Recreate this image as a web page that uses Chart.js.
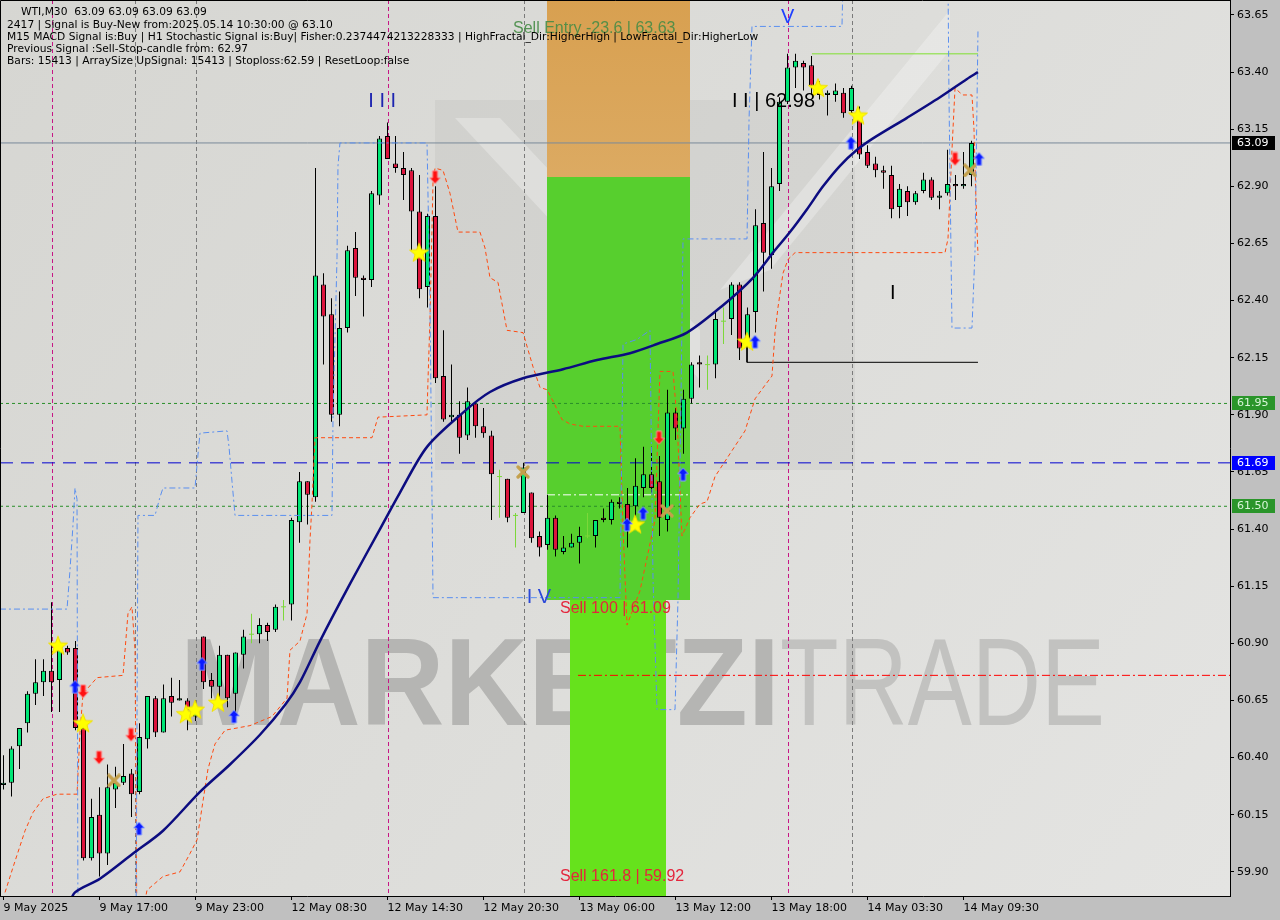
<!DOCTYPE html>
<html>
<head>
<meta charset="utf-8">
<script src="https://cdn.jsdelivr.net/npm/chart.js@4.4.1/dist/chart.umd.min.js"></script>
<style>
  html, body { margin: 0; padding: 0; background: #c0c0c0; }
  canvas { display: block; }
</style>
</head>
<body>
<canvas id="chart" width="1280" height="920"></canvas>
<script>
// WTI M30 candles, bar index 0 = 9 May 2025 ~11:00
const opens = [60.28,60.29,60.45,60.55,60.68,60.73,60.78,60.74,60.88,60.88,60.53,59.96,60.15,59.98,60.26,60.29,60.33,60.25,60.48,60.66,
  60.51,60.67,60.65,60.65,60.58,60.93,60.74,60.71,60.85,60.68,60.85,60.94,60.94,60.98,60.96,61.06,61.07,61.43,61.61,61.54,
  62.47,62.34,61.90,62.28,62.63,62.50,62.49,62.86,63.12,63.00,62.98,62.97,62.79,62.46,62.77,62.07,61.89,61.90,61.81,61.95,
  61.85,61.81,61.63,61.62,61.46,61.47,61.56,61.37,61.33,61.45,61.30,61.32,61.34,61.37,61.37,61.45,61.44,61.52,61.51,61.50,
  61.58,61.64,61.61,61.44,61.91,61.84,61.97,62.13,62.12,62.12,62.31,62.32,62.47,62.22,62.35,62.74,62.60,62.91,63.27,63.42,
  63.44,63.43,63.34,63.30,63.30,63.31,63.23,63.21,63.05,63.00,62.97,62.95,62.81,62.88,62.83,62.88,62.93,62.85,62.87,62.91,
  62.90,62.95];
const highs = [60.41,60.45,60.53,60.69,60.83,60.83,61.08,60.90,60.89,60.91,60.55,60.22,60.27,60.37,60.36,60.46,60.35,60.55,60.67,60.67,
  60.72,60.75,60.74,60.66,60.65,60.93,60.77,60.89,60.85,60.86,60.96,61.03,61.01,60.99,61.07,61.09,61.45,61.65,61.61,62.98,
  62.52,62.41,62.44,62.64,62.70,62.51,62.88,63.12,63.18,63.12,63.05,62.98,62.95,62.78,62.90,62.27,62.12,61.96,62.02,61.96,
  61.93,61.83,61.66,61.62,61.47,61.69,61.56,61.39,61.55,61.46,61.37,61.38,61.41,61.47,61.44,61.49,61.53,61.54,61.58,61.71,
  61.76,61.76,61.72,62.01,61.93,62.01,62.13,62.16,62.16,62.35,62.37,62.48,62.48,62.37,62.80,63.05,62.98,63.29,63.48,63.48,
  63.45,63.47,63.36,63.32,63.35,63.33,63.34,63.25,63.08,63.03,62.99,62.99,62.91,62.90,62.88,62.96,62.94,62.88,63.06,62.95,
  63.05,63.10];
const lows = [60.26,60.23,60.35,60.51,60.63,60.67,60.60,60.60,60.85,60.52,59.95,59.95,59.88,59.93,60.18,60.28,60.14,60.24,60.44,60.49,
  60.51,60.58,60.65,60.52,60.56,60.70,60.66,60.66,60.62,60.60,60.79,60.90,60.90,60.91,60.95,61.00,61.00,61.34,61.42,61.52,
  62.12,61.87,61.85,62.26,62.42,62.33,62.46,62.82,63.02,62.96,62.84,62.62,62.41,62.37,62.04,61.87,61.86,61.73,61.79,61.80,
  61.80,61.44,61.45,61.43,61.32,61.47,61.34,61.28,61.31,61.28,61.29,61.32,61.25,61.36,61.32,61.43,61.42,61.49,61.32,61.40,
  61.54,61.56,61.37,61.39,61.79,61.73,61.95,62.02,62.01,62.06,62.21,62.25,62.14,62.20,62.26,62.44,62.54,62.88,63.26,63.33,
  63.32,63.30,63.28,63.21,63.27,63.20,63.22,63.02,62.98,62.94,62.89,62.76,62.76,62.77,62.82,62.87,62.84,62.80,62.86,62.84,
  62.89,62.90];
const closes = [60.29,60.44,60.53,60.68,60.73,60.78,60.73,60.87,60.86,60.53,59.96,60.14,59.98,60.27,60.29,60.32,60.24,60.49,60.67,60.51,
  60.66,60.64,60.66,60.61,60.61,60.73,60.71,60.85,60.66,60.86,60.93,60.94,60.98,60.95,61.06,61.06,61.44,61.61,61.55,62.51,
  62.33,61.90,62.28,62.62,62.50,62.49,62.87,63.11,63.02,62.98,62.95,62.79,62.45,62.77,62.06,61.88,61.90,61.80,61.96,61.85,
  61.82,61.64,61.63,61.45,61.46,61.67,61.36,61.32,61.45,61.31,61.32,61.34,61.37,61.37,61.44,61.44,61.52,61.51,61.43,61.59,
  61.64,61.58,61.45,61.91,61.84,61.97,62.12,62.12,62.12,62.32,62.31,62.47,62.19,62.34,62.73,62.61,62.90,63.27,63.42,63.45,
  63.42,63.34,63.30,63.31,63.32,63.22,63.33,63.04,62.99,62.97,62.96,62.80,62.89,62.83,62.87,62.93,62.85,62.86,62.91,62.90,
  62.91,63.09];
const dojiBars = [31, 35, 62, 64, 73, 88, 90];

const timeLabelBars = [0, 12, 24, 36, 48, 60, 72, 84, 96, 108, 120];
const timeLabels = ['9 May 2025', '9 May 17:00', '9 May 23:00', '12 May 08:30', '12 May 14:30', '12 May 20:30',
  '13 May 06:00', '13 May 12:00', '13 May 18:00', '14 May 03:30', '14 May 09:30'];
const priceTicks = [63.65, 63.40, 63.15, 62.90, 62.65, 62.40, 62.15, 61.90, 61.65, 61.40, 61.15, 60.90, 60.65, 60.40, 60.15, 59.90];

// moving average (sampled along the curve)
const maBars = [8.0, 8.94, 12.06, 16.19, 19.94, 24.56, 28.31, 32.06, 35.19, 37.06, 39.56, 43.31, 47.06, 49.56, 52.94, 57.44, 60.81, 64.94,
  69.94, 74.19, 78.31, 81.69, 85.44, 89.94, 93.69, 96.19, 98.31, 100.44, 102.44, 104.56, 106.69, 108.69, 112.94, 117.06, 120.44, 121.81];
const maValues = [59.74, 59.81, 59.87, 59.98, 60.08, 60.25, 60.37, 60.50, 60.63, 60.73, 60.91, 61.16, 61.40, 61.56, 61.76, 61.91, 62.00, 62.06,
  62.10, 62.14, 62.17, 62.21, 62.26, 62.38, 62.50, 62.61, 62.70, 62.80, 62.90, 62.99, 63.06, 63.11, 63.20, 63.29, 63.37, 63.40];

// trailing stop (orange dashed)
const stopBars = [0.19, 1.19, 2.69, 3.69, 4.94, 6.69, 9.19, 9.56, 9.94, 11.69, 14.94, 15.56, 16.06, 16.44, 16.69, 17.94, 19.94, 22.06, 23.31, 24.19,
  24.94, 25.56, 26.44, 27.69, 30.81, 33.56, 35.44, 35.81, 37.06, 37.94, 38.31, 38.56, 38.94, 46.06, 46.81, 52.94, 53.06, 53.31, 53.69, 53.94,
  54.94, 55.81, 56.81, 59.56, 60.19, 60.81, 61.81, 62.94, 64.94, 66.19, 67.06, 67.94, 68.69, 69.81, 70.81, 72.44, 77.06, 77.44, 77.94, 79.56,
  81.44, 81.81, 82.06, 83.69, 84.19, 84.81, 85.81, 87.06, 87.94, 88.94, 90.81, 92.69, 93.94, 95.19, 96.06, 96.44, 96.81, 97.44, 98.06, 98.94,
  117.69, 118.06, 118.56, 118.94, 119.56, 119.94, 121.06, 121.31, 121.56, 121.81];
const stopValues = [59.81, 59.92, 60.08, 60.16, 60.22, 60.24, 60.24, 60.51, 60.68, 60.75, 60.76, 61.03, 61.06, 60.87, 59.60, 59.82, 59.88, 59.90, 59.98, 60.04,
  60.21, 60.35, 60.46, 60.52, 60.54, 60.58, 60.66, 60.87, 60.91, 61.03, 61.35, 61.51, 61.80, 61.80, 61.89, 61.90, 62.05, 62.32, 62.92, 62.98,
  62.97, 62.87, 62.70, 62.70, 62.63, 62.50, 62.48, 62.27, 62.26, 62.11, 62.02, 62.01, 61.96, 61.88, 61.86, 61.85, 61.85, 61.40, 60.98, 61.13,
  61.44, 61.83, 62.09, 62.09, 61.88, 61.37, 61.45, 61.51, 61.52, 61.63, 61.73, 61.83, 61.97, 62.03, 62.07, 62.26, 62.37, 62.52, 62.58, 62.61,
  62.61, 62.67, 63.06, 63.33, 63.31, 63.30, 63.30, 63.15, 62.84, 62.60];

// fractal channel (blue dash-dot), two runs
const fractalBars = [-0.44, 7.94, 8.31, 8.69, 8.94, 9.19, 9.31, 16.56, 16.81, 18.94, 19.56, 19.94, 23.94, 24.19, 24.56, 27.94, 28.19, 28.56, 28.94,
  41.06, 41.19, 41.69, 41.81, 42.06, 52.94, 53.31, 53.69, 65.81, 77.06, 77.44, 79.19, 80.81, 81.19, 81.69, 83.94, 84.31, 84.69, 84.94, 92.94,
  93.19, 93.56, 104.81, 104.94];
const fractalValues = [61.05, 61.05, 61.22, 61.42, 61.58, 61.53, 59.60, 59.60, 61.46, 61.46, 61.54, 61.58, 61.58, 61.68, 61.82, 61.83, 61.76, 61.61, 61.46,
  61.46, 61.89, 62.59, 62.99, 63.09, 63.09, 62.40, 61.10, 61.10, 61.10, 62.21, 62.23, 62.27, 61.18, 60.61, 60.61, 61.09, 61.97, 62.67, 62.67,
  63.19, 63.60, 63.60, 63.80];
const fractalBars2 = [118.06, 118.19, 118.56, 121.06, 121.44, 121.81];
const fractalValues2 = [63.80, 63.28, 62.28, 62.28, 62.62, 63.58];

// levels
const currentPrice = 63.09;
const upperLevel = 61.95;
const pivotLevel = 61.69;
const lowerLevel = 61.50;
const targetLevel = 60.76;
const entryMidLevel = 61.55;
const highLevel = 63.48;
const supportLevel = 62.13;
const supportStart = 62.22;

// fibonacci zones: [fromBar, toBar, lowPrice, highPrice]
const entryZone = [67.94, 85.81, 62.94, 63.90];
const sellZone = [67.94, 85.81, 61.09, 62.94];
const extensionZone = [70.81, 82.81, 59.60, 61.09];
const highLevelBars = [101.06, 121.81];
const supportBars = [92.94, 121.81];
const targetFromBar = 71.81;

const daySeparators = [6, 48, 98];
const sessionSeparators = [16.45, 24, 65, 106];

// signal markers
const upArrowBars = [8.94, 16.94, 24.81, 28.81, 77.94, 79.94, 84.94, 93.94, 105.94, 121.94];
const upArrowPrices = [60.71, 60.09, 60.81, 60.58, 61.42, 61.47, 61.64, 62.22, 63.09, 63.02];
const downArrowBars = [9.94, 11.94, 15.94, 53.94, 81.94, 118.94];
const downArrowPrices = [60.69, 60.40, 60.50, 62.94, 61.80, 63.02];
const starBars = [6.81, 9.94, 22.81, 23.94, 26.81, 51.94, 78.94, 92.94, 101.81, 106.81];
const starPrices = [60.89, 60.55, 60.59, 60.61, 60.64, 62.61, 61.42, 62.22, 63.33, 63.21];
const crossBars = [13.81, 64.94, 82.94, 120.81];
const crossPrices = [60.30, 61.65, 61.48, 62.97];

// text annotations
const waveTexts = ['I I I', 'I V', 'V', 'I I | 62.98', 'I'];
const waveBars = [45.6, 65.4, 97.2, 91.06, 110.8];
const wavePrices = [63.27, 61.10, 63.64, 63.27, 62.43];
const fibTexts = ['Sell Entry -23.6 | 63.63', 'Sell 100 | 61.09', 'Sell 161.8 | 59.92'];
const fibBars = [63.69, 69.56, 69.56];
const fibPrices = [63.59, 61.05, 59.88];

const headerLines = [
  'WTI,M30  63.09 63.09 63.09 63.09',
  '2417 | Signal is Buy-New from:2025.05.14 10:30:00 @ 63.10',
  'M15 MACD Signal is:Buy | H1 Stochastic Signal is:Buy| Fisher:0.2374474213228333 | HighFractal_Dir:HigherHigh | LowFractal_Dir:HigherLow',
  'Previous Signal :Sell-Stop-candle from: 62.97',
  'Bars: 15413 | ArraySize UpSignal: 15413 | Stoploss:62.59 | ResetLoop:false'
];

const xMin = -0.4375, xMax = 153.3125;
const yMin = 59.7944, yMax = 63.7156;

const pts = (xs, ys) => xs.map((x, k) => ({ x: x, y: ys[k] }));
const isDoji = i => dojiBars.includes(i);
const bars = opens.map((_, i) => i);
const bodyBars = bars.filter(i => !isDoji(i));

// marker glyphs
function makeArrow(fill, edge, up) {
  const c = document.createElement('canvas');
  c.width = 13; c.height = 15;
  const g = c.getContext('2d');
  const shape = [[6.5, 1], [12, 7], [9, 7], [9, 14], [4, 14], [4, 7], [1, 7]];
  g.beginPath();
  shape.forEach(([px, py], k) => {
    const yy = up ? py : 15 - py;
    if (k) g.lineTo(px, yy); else g.moveTo(px, yy);
  });
  g.closePath();
  g.fillStyle = fill; g.fill();
  g.strokeStyle = edge; g.lineWidth = 1; g.stroke();
  return c;
}
function makeStar() {
  const c = document.createElement('canvas');
  c.width = 22; c.height = 22;
  const g = c.getContext('2d');
  g.beginPath();
  for (let k = 0; k < 10; k++) {
    const r = k % 2 ? 4.2 : 10;
    const a = -Math.PI / 2 + k * Math.PI / 5;
    const px = 11 + r * Math.cos(a), py = 11.5 + r * Math.sin(a);
    if (k) g.lineTo(px, py); else g.moveTo(px, py);
  }
  g.closePath();
  g.fillStyle = '#ffff00'; g.fill();
  g.strokeStyle = '#f0e000'; g.lineWidth = 1; g.stroke();
  return c;
}
function makeCross() {
  const c = document.createElement('canvas');
  c.width = 14; c.height = 14;
  const g = c.getContext('2d');
  g.strokeStyle = '#c4a04c'; g.lineWidth = 3.2; g.lineCap = 'round';
  g.beginPath(); g.moveTo(2, 2); g.lineTo(12, 12); g.moveTo(12, 2); g.lineTo(2, 12); g.stroke();
  return c;
}

function hLine(price, from, to, color, dash, order) {
  return {
    type: 'line', order: order, data: [{ x: from, y: price }, { x: to, y: price }],
    borderColor: color, borderDash: dash, borderWidth: 1, pointRadius: 0, fill: false
  };
}
function markers(xs, ys, glyph) {
  return {
    type: 'line', order: 0, showLine: false, data: pts(xs, ys),
    pointStyle: glyph, pointRadius: 6, pointHoverRadius: 6
  };
}

const plotDecor = {
  id: 'plotDecor',
  beforeDraw(chart) {
    const { ctx, chartArea: a } = chart;
    ctx.save();
    ctx.fillStyle = '#c0c0c0';
    ctx.fillRect(0, 0, chart.width, chart.height);
    const g = ctx.createLinearGradient(a.left, a.top, a.right, a.bottom);
    g.addColorStop(0, '#d6d6d2');
    g.addColorStop(1, '#e4e4e2');
    ctx.fillStyle = g;
    ctx.fillRect(a.left, a.top, a.width, a.height);
    ctx.restore();
  },
  beforeDatasetsDraw(chart) {
    const { ctx, chartArea: a, scales: { x, y } } = chart;
    ctx.save();
    ctx.beginPath(); ctx.rect(a.left, a.top, a.width, a.height); ctx.clip();

    // faint logo behind the chart
    ctx.fillStyle = 'rgba(0,0,0,0.04)';
    ctx.fillRect(a.left + 435, a.top + 100, 420, 370);
    ctx.fillStyle = 'rgba(255,255,255,0.28)';
    ctx.beginPath();
    ctx.moveTo(a.left + 455, a.top + 118); ctx.lineTo(a.left + 500, a.top + 118);
    ctx.lineTo(a.left + 700, a.top + 330); ctx.lineTo(a.left + 700, a.top + 380); ctx.closePath(); ctx.fill();
    ctx.beginPath();
    ctx.moveTo(a.left + 720, a.top + 290); ctx.lineTo(a.left + 950, a.top + 10);
    ctx.lineTo(a.left + 950, a.top + 50); ctx.lineTo(a.left + 770, a.top + 270); ctx.closePath(); ctx.fill();

    // watermark
    ctx.textBaseline = 'alphabetic';
    ctx.font = 'bold 124px "Liberation Sans", Arial, sans-serif';
    let w = ctx.measureText('MARKETZI').width;
    ctx.save();
    ctx.translate(a.left + 180, a.top + 725);
    ctx.scale(600 / w, 1);
    ctx.fillStyle = '#b5b5b3';
    ctx.fillText('MARKETZI', 0, 0);
    ctx.restore();
    ctx.font = '124px "Liberation Sans", Arial, sans-serif';
    w = ctx.measureText('TRADE').width;
    ctx.save();
    ctx.translate(a.left + 780, a.top + 725);
    ctx.scale(325 / w, 1);
    ctx.fillStyle = '#c2c2c0';
    ctx.fillText('TRADE', 0, 0);
    ctx.restore();

    // fibonacci zones
    const zone = (z, fill) => {
      const l = x.getPixelForValue(z[0]), r = x.getPixelForValue(z[1]);
      const t = y.getPixelForValue(z[3]), b = y.getPixelForValue(z[2]);
      ctx.fillStyle = fill;
      ctx.fillRect(Math.round(l), Math.round(t), Math.round(r - l), Math.round(b - t));
    };
    const og = ctx.createLinearGradient(0, a.top, 0, y.getPixelForValue(entryZone[2]));
    og.addColorStop(0, '#d8a050'); og.addColorStop(1, '#dcaa62');
    zone(entryZone, og);
    zone(sellZone, '#57cf2e');
    zone(extensionZone, '#66e21c');

    // separators
    ctx.lineWidth = 1;
    ctx.setLineDash([4, 3]);
    const vline = (b, color) => {
      const px = Math.round(x.getPixelForValue(b)) + 0.5;
      ctx.strokeStyle = color;
      ctx.beginPath(); ctx.moveTo(px, a.top); ctx.lineTo(px, a.bottom); ctx.stroke();
    };
    daySeparators.forEach(b => vline(b, '#c71585'));
    sessionSeparators.forEach(b => vline(b, '#7a7a7a'));
    ctx.restore();
  },
  afterDatasetsDraw(chart) {
    const { ctx, scales: { x, y } } = chart;
    ctx.save();
    ctx.textBaseline = 'middle';
    ctx.textAlign = 'left';
    const waveColors = ['#1c24b0', '#2a48d8', '#1e40ff', '#000000', '#000000'];
    waveTexts.forEach((t, k) => {
      ctx.font = '20px "Liberation Sans", Arial, sans-serif';
      ctx.fillStyle = waveColors[k];
      ctx.fillText(t, x.getPixelForValue(waveBars[k]), y.getPixelForValue(wavePrices[k]));
    });
    const fibColors = ['rgba(70,140,70,0.9)', '#e4253c', '#e4253c'];
    fibTexts.forEach((t, k) => {
      ctx.font = '16px "Liberation Sans", Arial, sans-serif';
      ctx.fillStyle = fibColors[k];
      ctx.fillText(t, x.getPixelForValue(fibBars[k]), y.getPixelForValue(fibPrices[k]));
    });
    ctx.restore();
  },
  afterDraw(chart) {
    const { ctx, chartArea: a, scales: { y } } = chart;
    ctx.save();
    // frame
    ctx.strokeStyle = '#000';
    ctx.lineWidth = 1;
    ctx.beginPath();
    ctx.moveTo(a.left + 0.5, a.bottom); ctx.lineTo(a.left + 0.5, a.top + 0.5); ctx.lineTo(a.right, a.top + 0.5);
    ctx.stroke();

    // price tags on the axis
    const tags = [
      [currentPrice, '#000000', '#ffffff'],
      [upperLevel, '#2a952a', '#d8f4d8'],
      [pivotLevel, '#0000ff', '#ffffff'],
      [lowerLevel, '#2a952a', '#d8f4d8']
    ];
    ctx.font = '11px "DejaVu Sans", sans-serif';
    ctx.textBaseline = 'middle';
    ctx.textAlign = 'left';
    tags.forEach(([p, bg, fg]) => {
      const py = Math.round(y.getPixelForValue(p));
      ctx.fillStyle = bg;
      ctx.fillRect(a.right + 2, py - 7, 43, 14);
      ctx.fillStyle = fg;
      ctx.fillText(p.toFixed(2), a.right + 7, py + 0.5);
    });

    // header block
    ctx.fillStyle = '#000';
    ctx.font = '10.7px "DejaVu Sans", sans-serif';
    headerLines.forEach((t, k) => {
      ctx.fillText(t, k === 0 ? 21 : 7, 12.5 + k * 12.3);
    });
    ctx.restore();
  }
};

const datasets = [
  hLine(currentPrice, xMin, xMax, '#7a8a9a', [], 9),
  hLine(upperLevel, xMin, xMax, '#2a8f2a', [3, 3], 9),
  hLine(pivotLevel, xMin, xMax, '#0000d0', [13, 8], 9),
  hLine(lowerLevel, xMin, xMax, '#2a8f2a', [3, 3], 9),
  hLine(targetLevel, targetFromBar, xMax, '#ff0000', [8, 3, 2, 3], 9),
  hLine(entryMidLevel, sellZone[0], sellZone[1], '#ffffff', [8, 3, 2, 3], 9),
  hLine(highLevel, highLevelBars[0], highLevelBars[1], '#7fe030', [], 9),
  {
    type: 'line', order: 9,
    data: [{ x: supportBars[0], y: supportStart }, { x: supportBars[0], y: supportLevel }, { x: supportBars[1], y: supportLevel }],
    borderColor: '#000000', borderWidth: 1, pointRadius: 0
  },
  {
    type: 'line', order: 2, data: pts(fractalBars, fractalValues),
    borderColor: '#5a8ff0', borderWidth: 1, borderDash: [6, 3, 2, 3], pointRadius: 0, tension: 0
  },
  {
    type: 'line', order: 2, data: pts(fractalBars2, fractalValues2),
    borderColor: '#5a8ff0', borderWidth: 1, borderDash: [6, 3, 2, 3], pointRadius: 0, tension: 0
  },
  {
    type: 'line', order: 2, data: pts(stopBars, stopValues),
    borderColor: '#ff4a10', borderWidth: 1, borderDash: [4, 3], pointRadius: 0, tension: 0
  },
  {
    type: 'bar', order: 4, grouped: false, barThickness: 1,
    data: bars.map(i => ({ x: i, y: [lows[i], highs[i]] })),
    backgroundColor: bars.map(i => isDoji(i) ? '#7cd83a' : '#000000'),
    borderWidth: 0, inflateAmount: 0
  },
  {
    type: 'bar', order: 3, grouped: false, barThickness: 5,
    data: bodyBars.map(i => ({ x: i, y: [opens[i], closes[i]] })),
    backgroundColor: bodyBars.map(i => closes[i] >= opens[i] ? '#00e676' : '#dc143c'),
    borderColor: '#000000', borderWidth: 1, borderSkipped: false, inflateAmount: 0
  },
  {
    type: 'bar', order: 3, grouped: false, barThickness: 5,
    data: dojiBars.map(i => ({ x: i, y: [opens[i] - 0.0022, opens[i] + 0.0022] })),
    backgroundColor: '#7cd83a', borderWidth: 0, inflateAmount: 0
  },
  {
    type: 'line', order: 1, data: pts(maBars, maValues),
    borderColor: '#0c0c80', borderWidth: 2.5, pointRadius: 0, tension: 0.3
  },
  markers(upArrowBars, upArrowPrices, makeArrow('#0a1aff', '#8aa0ff', true)),
  markers(downArrowBars, downArrowPrices, makeArrow('#ff1010', '#ff9090', false)),
  markers(starBars, starPrices, makeStar()),
  markers(crossBars, crossPrices, makeCross())
];

new Chart(document.getElementById('chart'), {
  type: 'bar',
  data: { datasets: datasets },
  options: {
    responsive: false,
    devicePixelRatio: 1,
    animation: false,
    events: [],
    layout: { padding: 0, autoPadding: false },
    plugins: { legend: { display: false }, tooltip: { enabled: false } },
    scales: {
      x: {
        type: 'linear', min: xMin, max: xMax, offset: false,
        grid: { drawOnChartArea: false, drawTicks: true, tickLength: 4, color: '#000', offset: false },
        border: { display: true, color: '#000' },
        ticks: {
          align: 'start', autoSkip: false, maxRotation: 0, padding: 2, color: '#000',
          font: { family: 'DejaVu Sans', size: 11 },
          callback: v => {
            const k = timeLabelBars.indexOf(v);
            return k >= 0 ? timeLabels[k] : '';
          }
        },
        afterBuildTicks: s => { s.ticks = timeLabelBars.map(v => ({ value: v })); },
        afterFit: s => { s.height = 24; s.paddingLeft = 0; s.paddingRight = 0; }
      },
      y: {
        type: 'linear', position: 'right', min: yMin, max: yMax,
        grid: { drawOnChartArea: false, drawTicks: true, tickLength: 4, color: '#000' },
        border: { display: true, color: '#000' },
        ticks: {
          padding: 3, color: '#000',
          font: { family: 'DejaVu Sans', size: 11 },
          callback: v => v.toFixed(2)
        },
        afterBuildTicks: s => { s.ticks = priceTicks.map(v => ({ value: v })); },
        afterFit: s => { s.width = 50; s.paddingTop = 0; s.paddingBottom = 0; }
      }
    }
  },
  plugins: [plotDecor]
});
</script>
</body>
</html>
